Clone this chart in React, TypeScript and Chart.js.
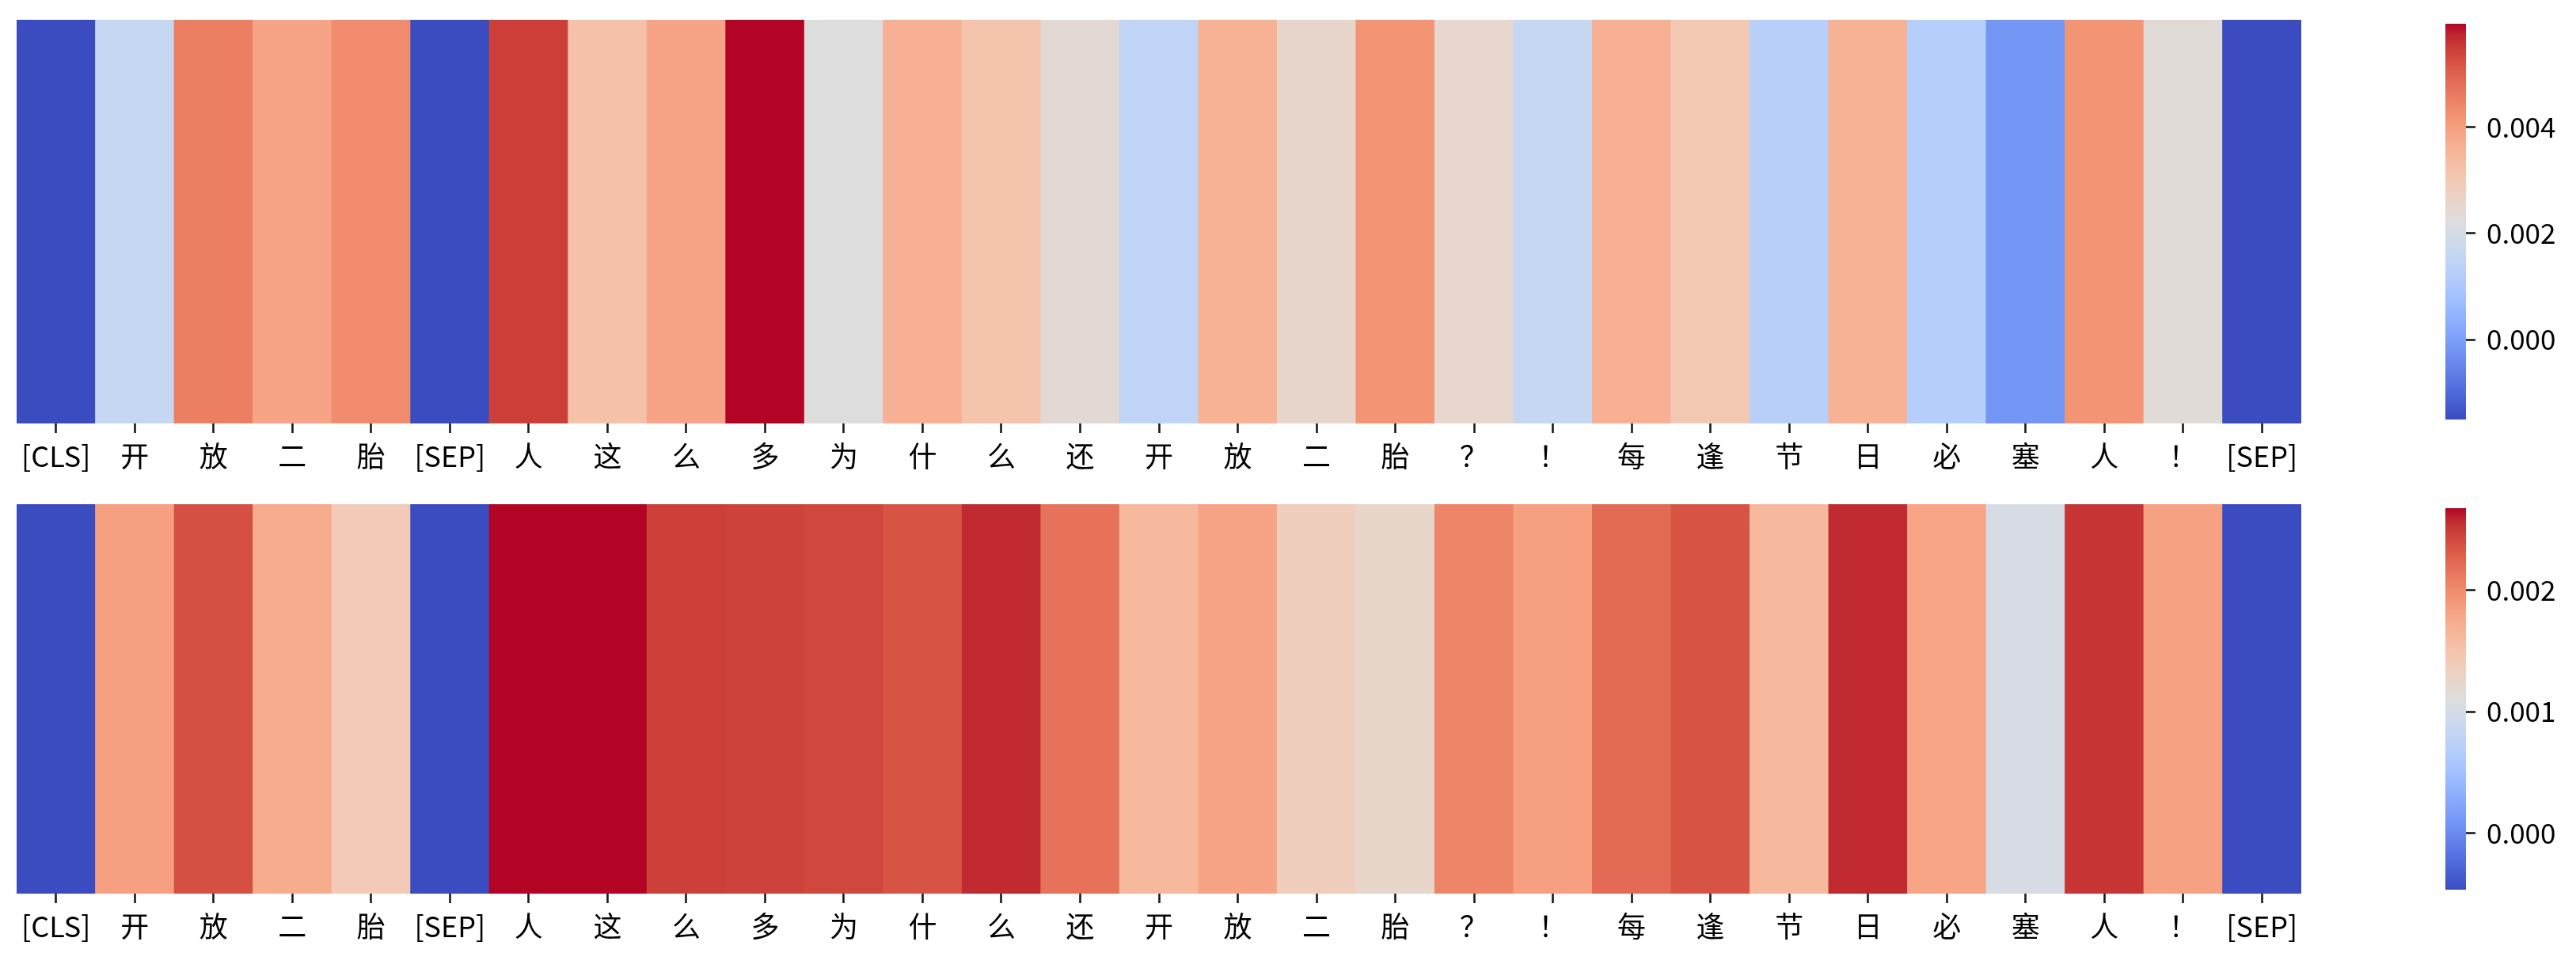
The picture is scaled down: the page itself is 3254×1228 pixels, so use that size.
import React, { useEffect, useRef } from "react";
import { Chart, registerables } from "chart.js";

Chart.register(...registerables);

// ---------------- data ----------------
const tokens = [
  "[CLS]", "开", "放", "二", "胎", "[SEP]", "人", "这", "么", "多", "为", "什", "么", "还",
  "开", "放", "二", "胎", "？", "！", "每", "逢", "节", "日", "必", "塞", "人", "！", "[SEP]",
];

const topValues = [
  -0.0015, 0.00162, 0.00456, 0.00389, 0.00434, -0.0015, 0.00546, 0.00322, 0.00389, 0.00594,
  0.00222, 0.00363, 0.00315, 0.0024, 0.00148, 0.0036, 0.00255, 0.00419, 0.00252, 0.00162,
  0.00363, 0.00304, 0.00129, 0.0036, 0.00125, -0.00016, 0.00419, 0.00233, -0.0015,
];

const bottomValues = [
  -0.000466, 0.00184, 0.00238, 0.00174, 0.00142, -0.000466, 0.002677, 0.002677, 0.00247, 0.00246,
  0.00243, 0.00236, 0.00257, 0.00217, 0.00162, 0.00181, 0.00137, 0.00125, 0.00205, 0.00184,
  0.00222, 0.00236, 0.00162, 0.00257, 0.0018, 0.00103, 0.00252, 0.00183, -0.000466,
];

const topRange = [-0.0015, 0.00594];
const bottomRange = [-0.000466, 0.002677];
const topTicks = [0, 0.002, 0.004];
const bottomTicks = [0, 0.001, 0.002];

// coolwarm colormap (Moreland diverging, 33 control points)
const COOLWARM: number[][] = [
  [59, 76, 192], [68, 90, 204], [77, 104, 215], [87, 117, 225], [98, 130, 234],
  [108, 142, 241], [119, 154, 247], [130, 165, 251], [141, 176, 254], [152, 185, 255],
  [163, 194, 255], [174, 201, 253], [184, 208, 249], [194, 213, 244], [204, 217, 238],
  [213, 219, 230], [221, 221, 221], [229, 216, 209], [236, 211, 197], [241, 204, 185],
  [245, 196, 173], [247, 187, 160], [247, 177, 148], [247, 166, 135], [244, 154, 123],
  [241, 141, 111], [236, 127, 99], [229, 112, 88], [222, 96, 77], [213, 80, 66],
  [203, 62, 56], [192, 40, 47], [180, 4, 38],
];

const FONT = '"Noto Sans CJK SC", "Noto Sans", "DejaVu Sans", sans-serif';
const X_FONT_SIZE = 36;
const CB_FONT_SIZE = 35;
const TICK_COLOR = "#1a1a1a";

function rgb(c: number[]) {
  return `rgb(${Math.round(c[0])},${Math.round(c[1])},${Math.round(c[2])})`;
}

function coolwarm(t: number) {
  const x = Math.max(0, Math.min(1, t)) * (COOLWARM.length - 1);
  const i = Math.min(Math.floor(x), COOLWARM.length - 2);
  const f = x - i;
  const a = COOLWARM[i];
  const b = COOLWARM[i + 1];
  return rgb([a[0] + (b[0] - a[0]) * f, a[1] + (b[1] - a[1]) * f, a[2] + (b[2] - a[2]) * f]);
}

// ---------------- layout ----------------
const PADX = 24;
const X_AXIS_H = 84;
const PADY = 30;
const CB_AXIS_W = 139;

type Box = { left: number; top: number; width: number; height: number };

function Heatmap({ values, range, area }: { values: number[]; range: number[]; area: Box }) {
  const ref = useRef<HTMLCanvasElement | null>(null);
  useEffect(() => {
    if (!ref.current) return;
    const [vmin, vmax] = range;
    const chart = new Chart(ref.current, {
      type: "bar",
      data: {
        labels: tokens,
        datasets: [
          {
            data: tokens.map(() => [0, 1]) as any,
            backgroundColor: values.map((v) => coolwarm((v - vmin) / (vmax - vmin))),
            borderWidth: 0,
            barPercentage: 1,
            categoryPercentage: 1,
          },
        ],
      },
      options: {
        animation: false,
        responsive: true,
        maintainAspectRatio: false,
        layout: { padding: { left: PADX, right: PADX, top: 0, bottom: 0 } },
        plugins: { legend: { display: false }, tooltip: { enabled: false } },
        scales: {
          x: {
            type: "category",
            offset: true,
            grid: {
              display: true,
              drawOnChartArea: false,
              drawTicks: true,
              tickLength: 12,
              tickWidth: 2.6,
              tickColor: TICK_COLOR,
              offset: false,
            },
            border: { display: false },
            ticks: {
              color: "#000",
              font: { family: FONT, size: X_FONT_SIZE },
              padding: 8,
              maxRotation: 0,
              minRotation: 0,
              autoSkip: false,
            },
            afterFit: (s: any) => {
              s.height = X_AXIS_H;
            },
          } as any,
          y: { display: false, min: 0, max: 1 },
        },
      },
    });
    return () => chart.destroy();
  }, [values, range]);
  return (
    <div
      style={{
        position: "absolute",
        left: area.left - PADX,
        top: area.top,
        width: area.width + 2 * PADX,
        height: area.height + X_AXIS_H,
      }}
    >
      <canvas ref={ref} />
    </div>
  );
}

function Colorbar({ range, ticks, area }: { range: number[]; ticks: number[]; area: Box }) {
  const ref = useRef<HTMLCanvasElement | null>(null);
  useEffect(() => {
    if (!ref.current) return;
    const [vmin, vmax] = range;
    const chart = new Chart(ref.current, {
      type: "bar",
      data: {
        labels: [""],
        datasets: [
          {
            data: [[vmin, vmax]] as any,
            backgroundColor: (ctx: any) => {
              const c = ctx.chart;
              const ys = c.scales.y;
              if (!c.chartArea || !ys) return "#ddd";
              const y0 = ys.getPixelForValue(vmin);
              const y1 = ys.getPixelForValue(vmax);
              const g = c.ctx.createLinearGradient(0, y0, 0, y1);
              COOLWARM.forEach((col, i) => g.addColorStop(i / (COOLWARM.length - 1), rgb(col)));
              return g;
            },
            borderWidth: 0,
            barPercentage: 1,
            categoryPercentage: 1,
          },
        ],
      },
      options: {
        animation: false,
        responsive: true,
        maintainAspectRatio: false,
        layout: { padding: { left: 0, right: 0, top: PADY, bottom: PADY } },
        plugins: { legend: { display: false }, tooltip: { enabled: false } },
        scales: {
          x: { display: false, offset: true },
          y: {
            position: "right",
            min: vmin,
            max: vmax,
            afterBuildTicks: (s: any) => {
              s.ticks = ticks.map((v) => ({ value: v }));
            },
            ticks: {
              color: "#000",
              font: { family: FONT, size: CB_FONT_SIZE },
              padding: 14,
              callback: (v: any) => Number(v).toFixed(3),
            },
            grid: {
              display: true,
              drawOnChartArea: false,
              drawTicks: true,
              tickLength: 12,
              tickWidth: 2.6,
              tickColor: TICK_COLOR,
            },
            border: { display: false },
            afterFit: (s: any) => {
              s.width = CB_AXIS_W;
            },
          } as any,
        },
      },
    });
    return () => chart.destroy();
  }, [range, ticks]);
  return (
    <div
      style={{
        position: "absolute",
        left: area.left,
        top: area.top - PADY,
        width: area.width + CB_AXIS_W,
        height: area.height + 2 * PADY,
      }}
    >
      <canvas ref={ref} />
    </div>
  );
}

export default function App() {
  return (
    <div
      style={{
        position: "absolute",
        left: 0,
        top: 0,
        width: 3254,
        height: 1228,
        background: "#fff",
        overflow: "hidden",
      }}
    >
      <Heatmap values={topValues} range={topRange} area={{ left: 21, top: 25, width: 2886, height: 510 }} />
      <Colorbar range={topRange} ticks={topTicks} area={{ left: 3089, top: 25, width: 26, height: 510 }} />
      <Heatmap values={bottomValues} range={bottomRange} area={{ left: 21, top: 637, width: 2886, height: 492 }} />
      <Colorbar range={bottomRange} ticks={bottomTicks} area={{ left: 3089, top: 637, width: 26, height: 492 }} />
    </div>
  );
}
